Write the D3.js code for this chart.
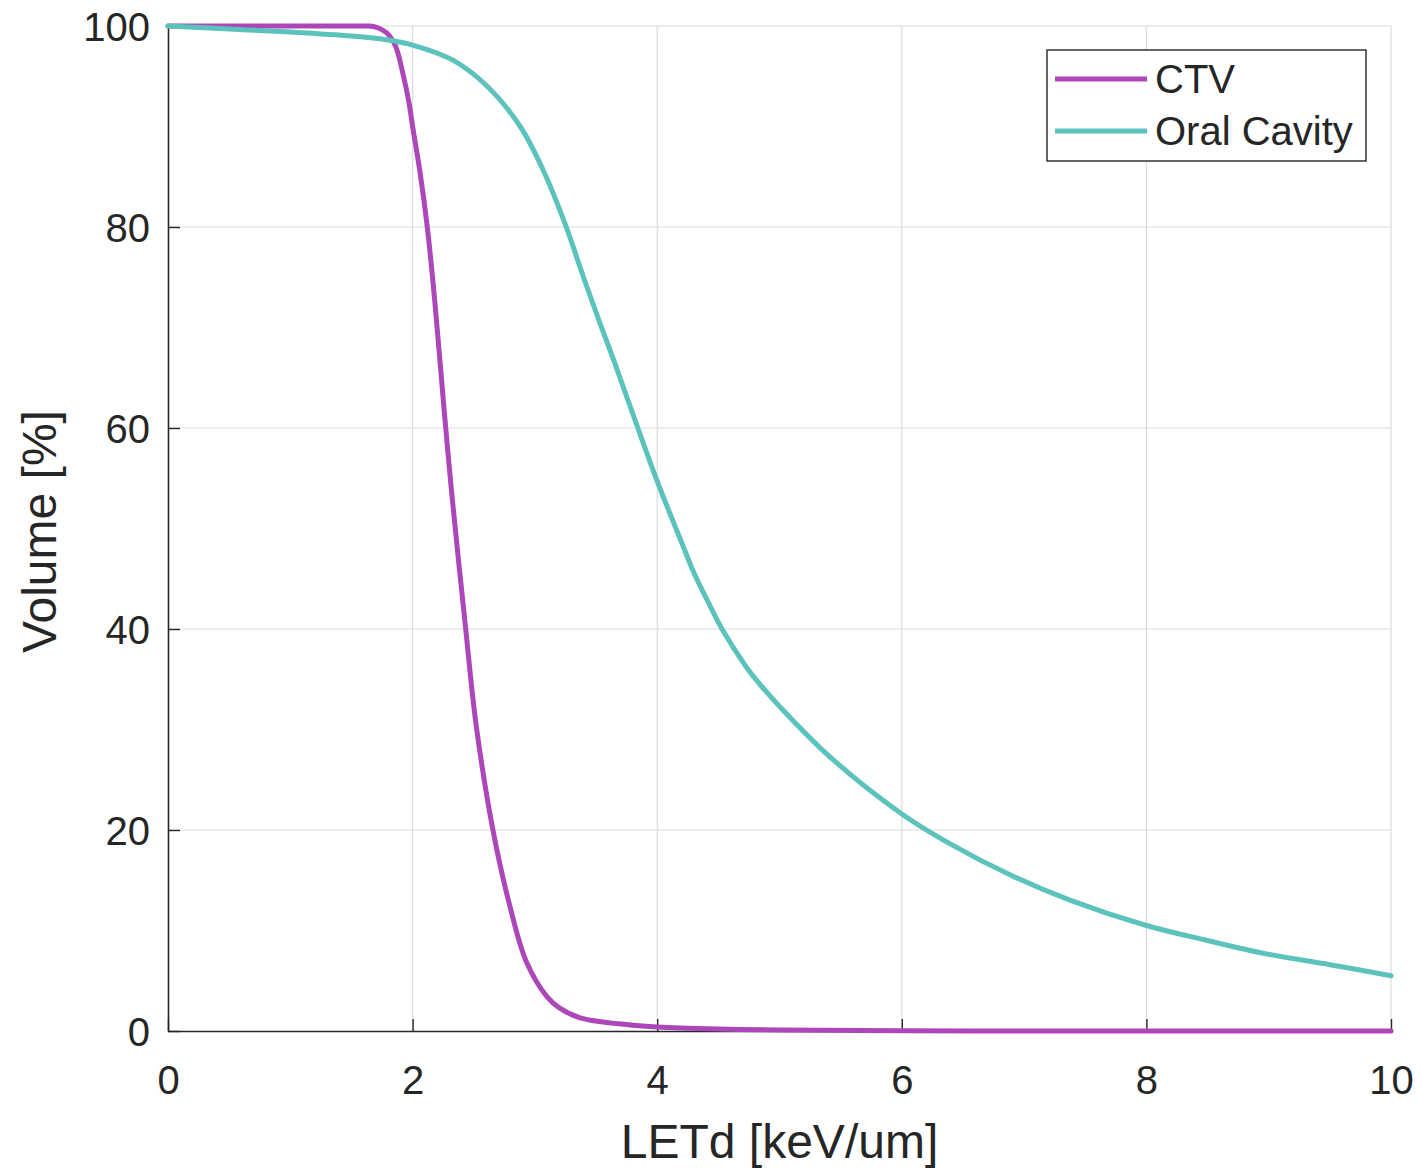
<!DOCTYPE html>
<html>
<head>
<meta charset="utf-8">
<script src="https://cdn.jsdelivr.net/npm/d3@7"></script>
<style>
  html, body { margin: 0; padding: 0; background: #fff; }
  svg { display: block; }
  text { font-family: "Liberation Sans", Arial, Helvetica, sans-serif; fill: #262626; }
</style>
</head>
<body>
<svg id="chart" width="1422" height="1171"></svg>
<script>
// Cumulative LETd-volume histograms
const seriesNames = ["CTV", "Oral Cavity"];
const seriesColors = ["#AD46B8", "#5BC2BC"];

const ctvLet = [0, 1.0, 1.6, 1.65, 1.72, 1.79, 1.86, 1.92, 1.97, 2.0, 2.06, 2.12, 2.18, 2.26, 2.32, 2.43, 2.52, 2.66, 2.8, 2.93, 3.1, 3.2, 3.37, 3.78, 4.0, 4.5, 5.0, 6.0, 7.0, 8.0, 10.0];
const ctvVol = [100, 100, 100, 100, 99.8, 99.3, 98.0, 95.3, 92.4, 90.0, 85.5, 80.0, 72.8, 61.5, 53.5, 40.5, 30.4, 19.8, 12.2, 6.9, 3.4, 2.3, 1.3, 0.6, 0.4, 0.2, 0.1, 0.03, 0, 0, 0];

const oralLet = [0, 0.5, 1.0, 1.5, 1.8, 2.0, 2.33, 2.61, 2.88, 3.07, 3.25, 3.4, 3.53, 3.64, 3.83, 4.0, 4.21, 4.3, 4.42, 4.53, 4.73, 4.84, 5.0, 5.41, 6.0, 6.37, 6.91, 7.38, 8.0, 8.5, 8.97, 9.5, 10.0];
const oralVol = [100, 99.7, 99.4, 99.0, 98.6, 98.1, 96.6, 94.0, 90.0, 85.6, 80.2, 74.9, 70.5, 66.9, 60.4, 54.7, 48.3, 45.6, 42.6, 40.0, 36.2, 34.5, 32.3, 27.3, 21.6, 18.8, 15.4, 13.0, 10.5, 9.0, 7.7, 6.6, 5.5];

const xTicks = [0, 2, 4, 6, 8, 10];
const yTicks = [0, 20, 40, 60, 80, 100];

const xLabel = "LETd [keV/um]";
const yLabel = "Volume [%]";

const svg = d3.select("#chart");
const plotLeft = 168, plotRight = 1391, plotTop = 26, plotBottom = 1031;

const x = d3.scaleLinear().domain([0, 10]).range([plotLeft, plotRight]);
const y = d3.scaleLinear().domain([0, 100]).range([plotBottom, plotTop]);

svg.append("rect").attr("width", 1422).attr("height", 1171).attr("fill", "#fff");

// grid
const grid = svg.append("g").attr("stroke", "#dcdcdc").attr("stroke-width", 1.2);
xTicks.filter(t => t > 0).forEach(t => {
  grid.append("line").attr("x1", x(t)).attr("x2", x(t)).attr("y1", plotTop).attr("y2", plotBottom);
});
yTicks.filter(t => t > 0).forEach(t => {
  grid.append("line").attr("x1", plotLeft).attr("x2", plotRight).attr("y1", y(t)).attr("y2", y(t));
});

// axes with inward ticks
const xAxis = d3.axisBottom(x).tickValues(xTicks).tickSizeInner(-12).tickSizeOuter(0).tickFormat(d3.format("d"));
const yAxis = d3.axisLeft(y).tickValues(yTicks).tickSizeInner(-12).tickSizeOuter(0).tickFormat(d3.format("d"));

const gx = svg.append("g").attr("transform", `translate(0,${plotBottom})`).call(xAxis);
const gy = svg.append("g").attr("transform", `translate(${plotLeft},0)`).call(yAxis);

[gx, gy].forEach(g => {
  g.select(".domain").attr("stroke", "#262626").attr("stroke-width", 1.6);
  g.selectAll(".tick line").attr("stroke", "#262626").attr("stroke-width", 1.4);
  g.selectAll(".tick text").attr("font-size", 40).attr("fill", "#262626")
    .style("font-family", '"Liberation Sans", Arial, sans-serif');
});
gx.selectAll(".tick text").attr("dy", null).attr("y", 63);
gy.selectAll(".tick text").attr("x", -18).attr("dy", "0.36em");

// axis titles
svg.append("text").attr("x", (plotLeft + plotRight) / 2).attr("y", 1158)
  .attr("text-anchor", "middle").attr("font-size", 48).text(xLabel);
svg.append("text").attr("transform", `translate(56,${(plotTop + plotBottom) / 2 + 3}) rotate(-90)`)
  .attr("text-anchor", "middle").attr("font-size", 48).text(yLabel);

// curves
const series = [
  { name: seriesNames[0], color: seriesColors[0], pts: ctvLet.map((v, i) => [v, ctvVol[i]]) },
  { name: seriesNames[1], color: seriesColors[1], pts: oralLet.map((v, i) => [v, oralVol[i]]) }
];
const line = d3.line().x(d => x(d[0])).y(d => y(d[1])).curve(d3.curveCatmullRom.alpha(0.5));
series.forEach(s => {
  svg.append("path").datum(s.pts).attr("d", line)
    .attr("fill", "none").attr("stroke", s.color).attr("stroke-width", 5)
    .attr("stroke-linejoin", "round").attr("stroke-linecap", "round");
});

// legend
const lg = svg.append("g");
lg.append("rect").attr("x", 1047).attr("y", 50).attr("width", 319).attr("height", 111)
  .attr("fill", "#fff").attr("stroke", "#262626").attr("stroke-width", 1.4);
series.forEach((s, i) => {
  const ly = 79 + i * 52;
  lg.append("line").attr("x1", 1055).attr("x2", 1147).attr("y1", ly).attr("y2", ly)
    .attr("stroke", s.color).attr("stroke-width", 5);
  lg.append("text").attr("x", 1155).attr("y", ly).attr("dy", "0.36em")
    .attr("font-size", 40).attr("fill", "#000").text(s.name);
});
</script>
</body>
</html>
